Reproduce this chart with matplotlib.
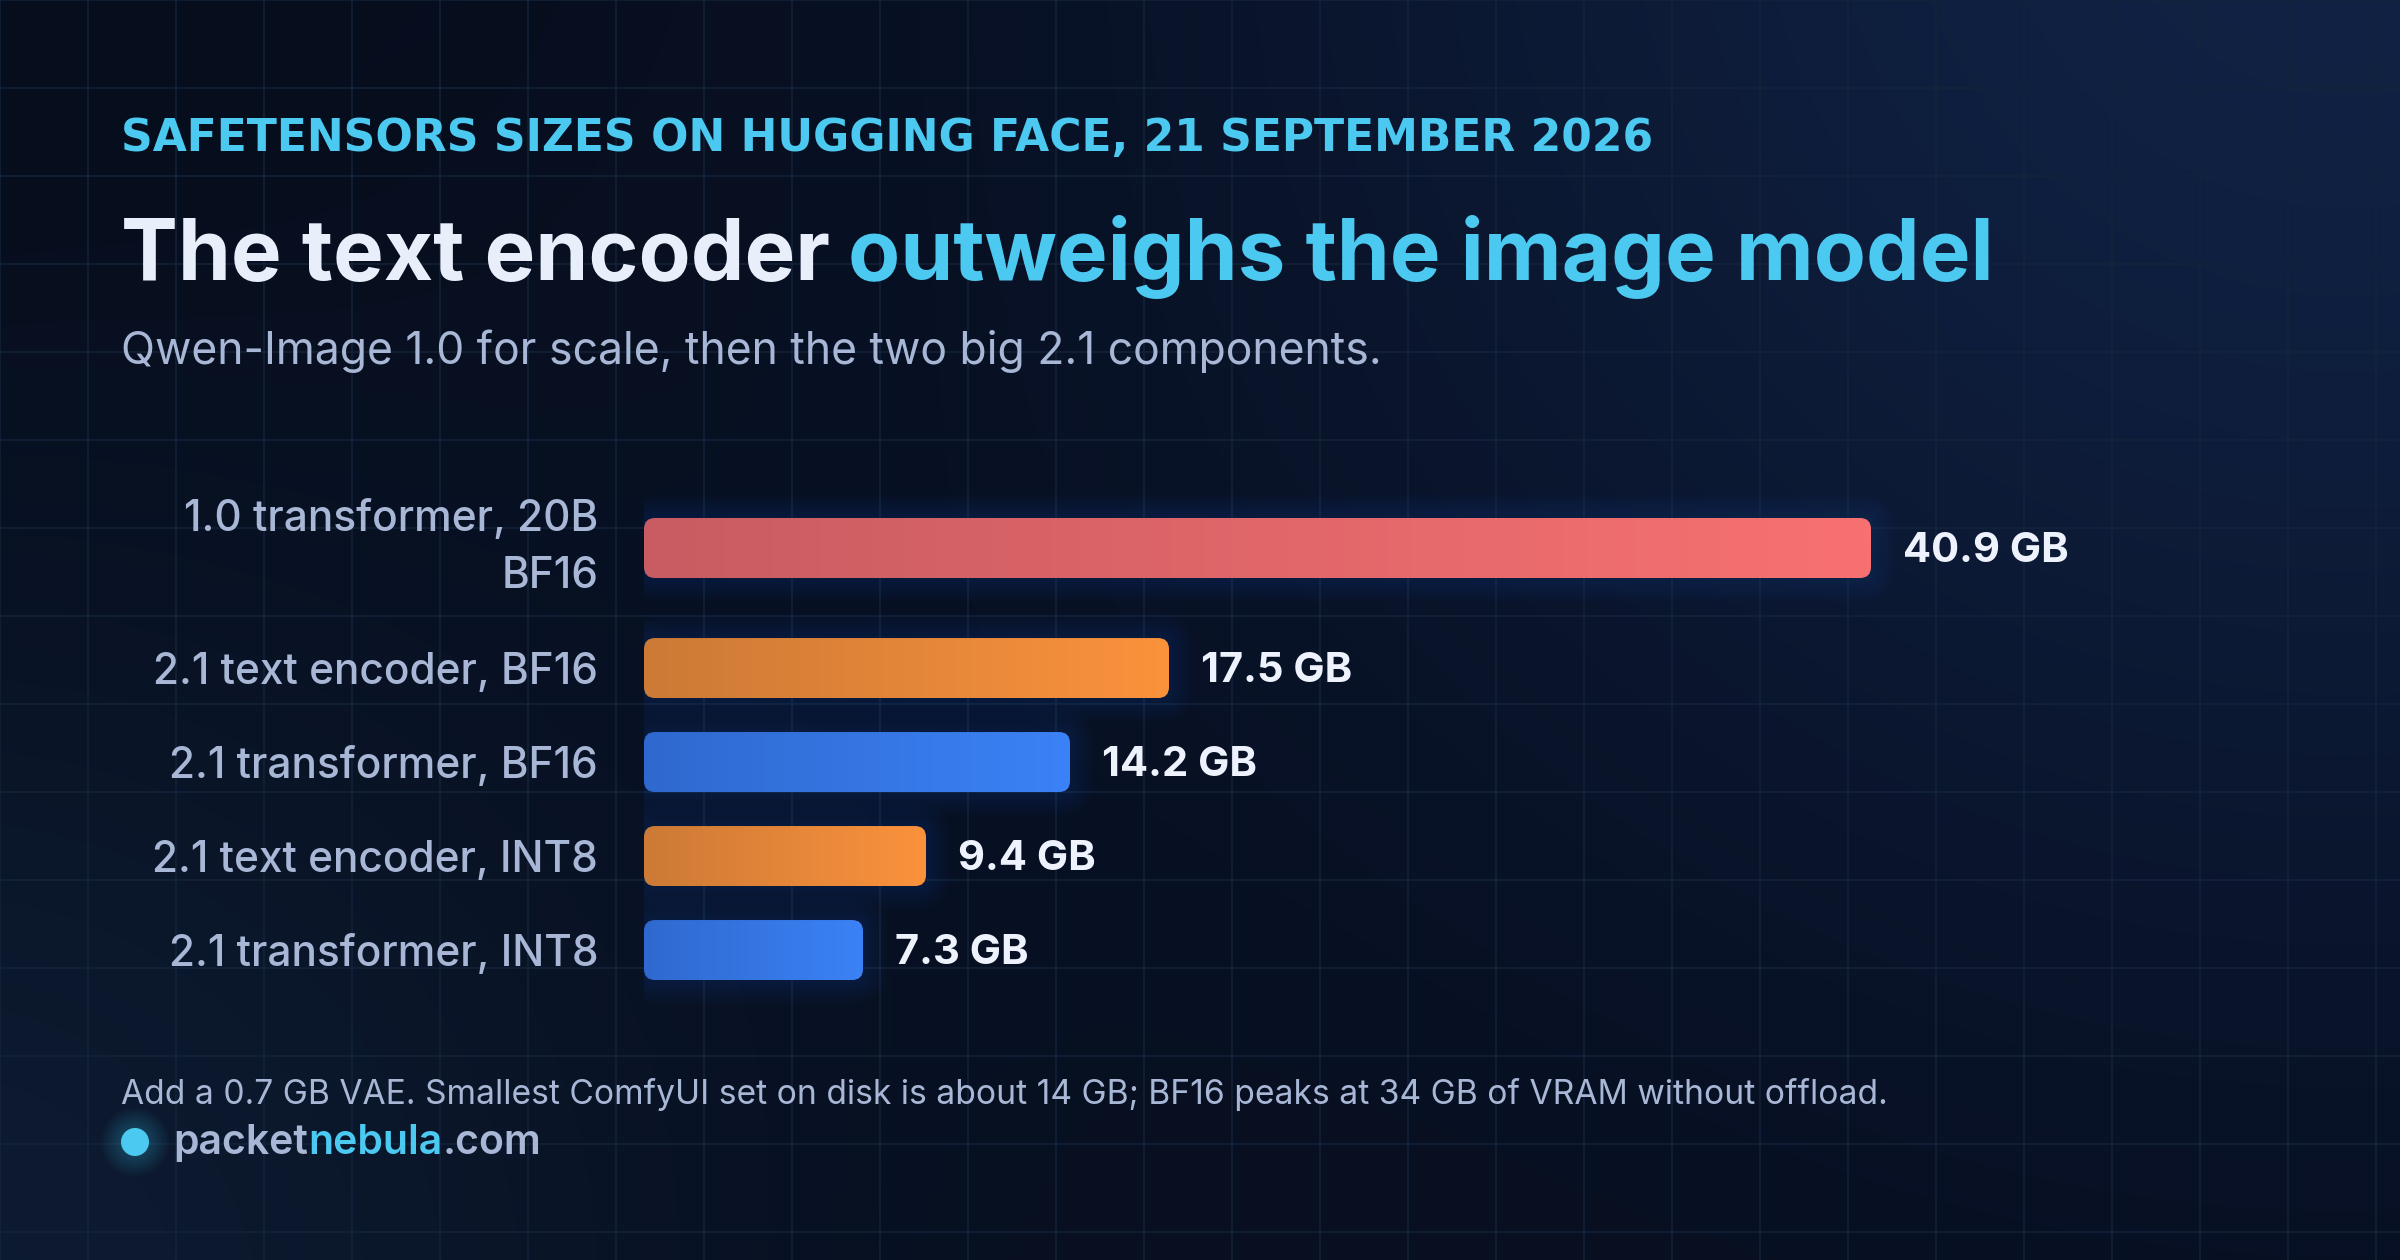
import numpy as np
import matplotlib
matplotlib.use("Agg")
import matplotlib.pyplot as plt
from matplotlib.patches import FancyBboxPatch, Circle
from matplotlib.colors import LinearSegmentedColormap, to_rgb

# ---- data
labels = ["1.0 transformer, 20B\nBF16", "2.1 text encoder, BF16", "2.1 transformer, BF16",
          "2.1 text encoder, INT8", "2.1 transformer, INT8"]
sizes_gb = [40.9, 17.5, 14.2, 9.4, 7.3]
kinds = ["qwen", "encoder", "transformer", "encoder", "transformer"]

eyebrow = "SAFETENSORS SIZES ON HUGGING FACE, 21 SEPTEMBER 2026"
title_a = "The text encoder"
title_b = "outweighs the image model"
subtitle = "Qwen-Image 1.0 for scale, then the two big 2.1 components."
note = ("Add a 0.7 GB VAE. Smallest ComfyUI set on disk is about 14 GB; "
        "BF16 peaks at 34 GB of VRAM without offload.")
site = ["packet", "nebula", ".com"]

# ---- style
W, H = 2400, 1260
BG = "#050b19"
CYAN = "#4cc9f0"
WHITE = "#e8eefa"
MUTED = "#a9b7d6"
grad = {"qwen": ("#c85c62", "#f87171"),
        "encoder": ("#cc7a36", "#fb923c"),
        "transformer": ("#2f69cf", "#3b82f6")}
FONT = "Inter"

fig = plt.figure(figsize=(W / 100, H / 100), dpi=100)
fig.patch.set_facecolor(BG)
renderer = fig.canvas.get_renderer()

# background layer in pixel units
bg = fig.add_axes([0, 0, 1, 1])
bg.set_xlim(0, W)
bg.set_ylim(H, 0)
bg.axis("off")

yy, xx = np.mgrid[0:H, 0:W].astype(float)
img = np.ones((H, W, 3)) * np.array(to_rgb(BG))
d1 = np.hypot(xx - 2350, yy + 150) / 1200
img += np.exp(-d1 ** 2)[..., None] * np.array([0.045, 0.09, 0.17])
d2 = np.hypot(xx + 100, yy - 1350) / 900
img += np.exp(-d2 ** 2)[..., None] * np.array([0.03, 0.06, 0.09])
bg.imshow(np.clip(img, 0, 1), extent=(0, W, H, 0), aspect="auto", zorder=0)

for gx in range(0, W + 1, 88):
    bg.axvline(gx, color="#13243b", lw=1.4, alpha=0.75, zorder=1)
for gy in range(0, H + 1, 88):
    bg.axhline(gy, color="#13243b", lw=1.4, alpha=0.75, zorder=1)


def put(x, y, s, width=None, size=20, **kw):
    t = bg.text(x, y, s, fontsize=size, zorder=5, **kw)
    if width:
        w = t.get_window_extent(renderer).width
        t.set_fontsize(size * width / w)
    return t


put(121, 151, eyebrow, width=1534, size=28, color=CYAN, weight="bold",
    family="DejaVu Sans", va="baseline")

# title in two colours, scaled so the whole line is as wide as the reference
tsize = 62
ta = put(121, 280, title_a, size=tsize, color=WHITE, weight="bold", family=FONT, va="baseline")
tb = put(0, 280, title_b, size=tsize, color=CYAN, weight="bold", family=FONT, va="baseline")
total = ta.get_window_extent(renderer).width + 0.3 * tsize + tb.get_window_extent(renderer).width
tsize = tsize * 1872 / total
ta.set_fontsize(tsize)
tb.set_fontsize(tsize)
tb.set_x(121 + ta.get_window_extent(renderer).width + 0.3 * tsize)

put(121, 364, subtitle, width=1263, size=26, color=MUTED, family=FONT, va="baseline")
put(121, 1104, note, width=1763, size=21, color=MUTED, family=FONT, va="baseline")

for k in range(8, 0, -1):
    bg.add_patch(Circle((135, 1142), 14 + k * 2.5, color=CYAN, alpha=0.03, lw=0, zorder=4))
bg.add_patch(Circle((135, 1142), 14, color=CYAN, lw=0, zorder=5))
sx = 173
for part, col in zip(site, [MUTED, CYAN, MUTED]):
    t = put(sx, 1154, part, size=29.5, color=col, weight="semibold", family=FONT, va="baseline")
    sx += t.get_window_extent(renderer).width

# ---- bars
ax_l, ax_t, ax_w, ax_h = 644, 490, 1500, 520
ax = fig.add_axes([ax_l / W, 1 - (ax_t + ax_h) / H, ax_w / W, ax_h / H])
ax.patch.set_alpha(0)
for s in ax.spines.values():
    s.set_visible(False)
xmax = 50
ylo, yhi = -0.617, 4.915
ax.set_xlim(0, xmax)
ax.set_ylim(yhi, ylo)

pos = np.arange(len(sizes_gb), dtype=float)
pos[1:] += 0.277  # first label wraps onto two lines

px_x = ax_w / xmax
px_y = ax_h / (yhi - ylo)
ma = px_x / px_y
bh = 60 / px_y
r_px = 11

for p, v, kind in zip(pos, sizes_gb, kinds):
    # soft glow
    for k in range(1, 9):
        ax.add_patch(FancyBboxPatch((0, p - bh / 2), v, bh,
                                    boxstyle=f"round,pad={k * 3 / px_x},rounding_size={(r_px + k * 3) / px_x}",
                                    mutation_aspect=ma, fc="#2453b8", alpha=0.022, lw=0, zorder=2))
    bar = FancyBboxPatch((0, p - bh / 2), v, bh,
                         boxstyle=f"round,pad=0,rounding_size={r_px / px_x}",
                         mutation_aspect=ma, fc="none", lw=0, zorder=3)
    ax.add_patch(bar)
    cmap = LinearSegmentedColormap.from_list(kind, grad[kind])
    im = ax.imshow(np.linspace(0, 1, 256)[None, :], extent=(0, v, p + bh / 2, p - bh / 2),
                   aspect="auto", cmap=cmap, zorder=3)
    im.set_clip_path(bar)
    ax.annotate(f"{v} GB", xy=(v, p), xytext=(23, -2), textcoords="offset points",
                va="center", ha="left", fontsize=30, weight="bold", color="#eef2fc",
                family=FONT)

ax.set_xlim(0, xmax)
ax.set_ylim(yhi, ylo)
ax.set_xticks([])
ax.set_yticks(pos)
ticks = ax.set_yticklabels(labels, fontsize=30.5, color=MUTED, family=FONT, weight="medium",
                           linespacing=1.5)
ticks[0].set_va("center")
ax.tick_params(axis="y", length=0, pad=33)

fig.savefig("out.png", dpi=100, facecolor=BG)
